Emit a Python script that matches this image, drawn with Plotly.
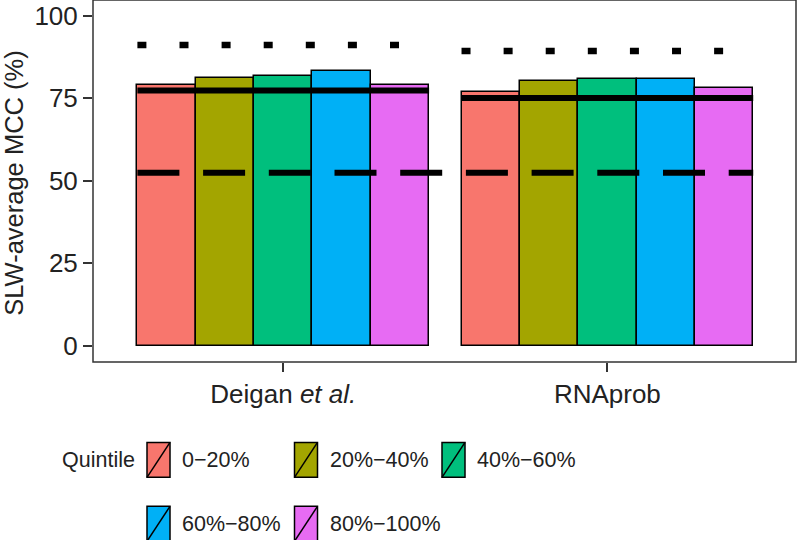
import plotly.graph_objects as go

# ---------------- data ----------------
methods = ["Deigan <i>et al.</i>", "RNAprob"]
quintiles = ["0\u221220%", "20%\u221240%", "40%\u221260%", "60%\u221280%", "80%\u2212100%"]
colors = ["#F8766D", "#A3A500", "#00BF7D", "#00B0F6", "#E76BF3"]

mcc_q1 = [79.1, 76.8]
mcc_q2 = [81.3, 80.3]
mcc_q3 = [81.8, 80.9]
mcc_q4 = [83.3, 81.0]
mcc_q5 = [79.0, 78.0]
mcc_by_quintile = [mcc_q1, mcc_q2, mcc_q3, mcc_q4, mcc_q5]

overall_mcc = [77.4, 75.1]     # solid line
upper_mcc = [91.2, 89.4]       # dotted line
baseline_mcc = [52.4, 52.4]    # dashed line

y_ticks = [0, 25, 50, 75, 100]

# ---------------- layout geometry ----------------
W_FIG, H_FIG = 800, 540
L, R, T, B = 93, 4, 0, 177.5
PW = W_FIG - L - R
PH = H_FIG - T - B
PLOT_BOTTOM = H_FIG - B


def px_x(px):
    return (px - L) / PW


def px_y(py):
    return (PLOT_BOTTOM - py) / PH


dodge = 0.9
bw = dodge / len(quintiles)
group_x = list(range(len(methods)))

fig = go.Figure()

for i, (q, col, vals) in enumerate(zip(quintiles, colors, mcc_by_quintile)):
    off = -dodge / 2 + bw * (i + 0.5)
    fig.add_trace(go.Bar(
        x=[g + off for g in group_x], y=vals, width=bw,
        name=q, marker=dict(color=col, line=dict(color="black", width=1.5)),
        showlegend=False,
    ))

# solid & dotted lines per group
for g, v_solid, v_dot in zip(group_x, overall_mcc, upper_mcc):
    fig.add_trace(go.Scatter(
        x=[g - dodge / 2, g + dodge / 2], y=[v_dot, v_dot], mode="lines",
        line=dict(color="black", width=6.5, dash="9px,33.1px"),
        showlegend=False, hoverinfo="skip"))
    fig.add_trace(go.Scatter(
        x=[g - dodge / 2, g + dodge / 2], y=[v_solid, v_solid], mode="lines",
        line=dict(color="black", width=6),
        showlegend=False, hoverinfo="skip"))

# dashed baseline (continuous across groups)
dx, dy = [], []
for g, v in zip(group_x, baseline_mcc):
    dx += [g - dodge / 2, g + dodge / 2]
    dy += [v, v]
fig.add_trace(go.Scatter(
    x=dx, y=dy, mode="lines",
    line=dict(color="black", width=6, dash="42px,23.7px"),
    showlegend=False, hoverinfo="skip"))

font_main = "Liberation Sans, Arial, Helvetica, sans-serif"
txt_col = "#222222"

fig.update_layout(
    width=W_FIG, height=H_FIG,
    margin=dict(l=L, r=R, t=T, b=B, autoexpand=False),
    paper_bgcolor="white", plot_bgcolor="white",
    bargap=0, barmode="overlay",
    font=dict(family=font_main, size=26, color=txt_col),
    showlegend=False,
)

fig.update_xaxes(
    range=[-0.587, 1.582], tickmode="array", tickvals=group_x, ticktext=methods,
    ticks="outside", ticklen=9, tickwidth=1.5, tickcolor="#333333",
    showgrid=False, zeroline=False, showline=False,
    tickfont=dict(size=26, color=txt_col),
)
fig.update_yaxes(
    range=[-5, 104.85], tickmode="array", tickvals=y_ticks,
    ticks="outside", ticklen=9, tickwidth=1.5, tickcolor="#333333",
    showgrid=False, zeroline=False, showline=False,
    tickfont=dict(size=26, color=txt_col),
)

# panel border
fig.add_shape(type="rect", xref="paper", yref="paper", x0=0, x1=1, y0=0, y1=1,
              line=dict(color="#333333", width=1.5), fillcolor="rgba(0,0,0,0)", layer="above")

# y-axis title
fig.add_annotation(text="SLW-average MCC (%)", textangle=-90,
                   xref="paper", yref="paper", x=px_x(14), y=px_y(184),
                   xanchor="center", yanchor="middle", showarrow=False,
                   font=dict(size=25.5, color=txt_col))

# ---------------- manual legend ----------------
leg_font = 21.5
key_w, key_h = 23, 35
col_x = [147, 294.5, 442]
row_cy = [460.5, 524.5]
fig.add_annotation(text="Quintile", xref="paper", yref="paper",
                   x=px_x(137), y=px_y(row_cy[0]), xanchor="right", yanchor="middle",
                   showarrow=False, font=dict(size=leg_font, color=txt_col))
for i, (q, col) in enumerate(zip(quintiles, colors)):
    r, c = divmod(i, 3)
    kx0 = col_x[c]
    cy = row_cy[r]
    x0, x1 = px_x(kx0), px_x(kx0 + key_w)
    y0, y1 = px_y(cy + key_h / 2), px_y(cy - key_h / 2)
    fig.add_shape(type="rect", xref="paper", yref="paper", x0=x0, x1=x1, y0=y0, y1=y1,
                  fillcolor=col, line=dict(color="black", width=1.5))
    fig.add_shape(type="line", xref="paper", yref="paper", x0=x0, x1=x1, y0=y0, y1=y1,
                  line=dict(color="black", width=1.5))
    fig.add_annotation(text=q, xref="paper", yref="paper",
                       x=px_x(kx0 + key_w + 10), y=px_y(cy), xanchor="left", yanchor="middle",
                       showarrow=False, font=dict(size=leg_font, color=txt_col))

fig.write_html(
    "out.html",
    config={"displayModeBar": False},
    post_script="document.body.style.margin='0';document.body.style.padding='0';"
                "document.documentElement.style.overflow='hidden';",
)
